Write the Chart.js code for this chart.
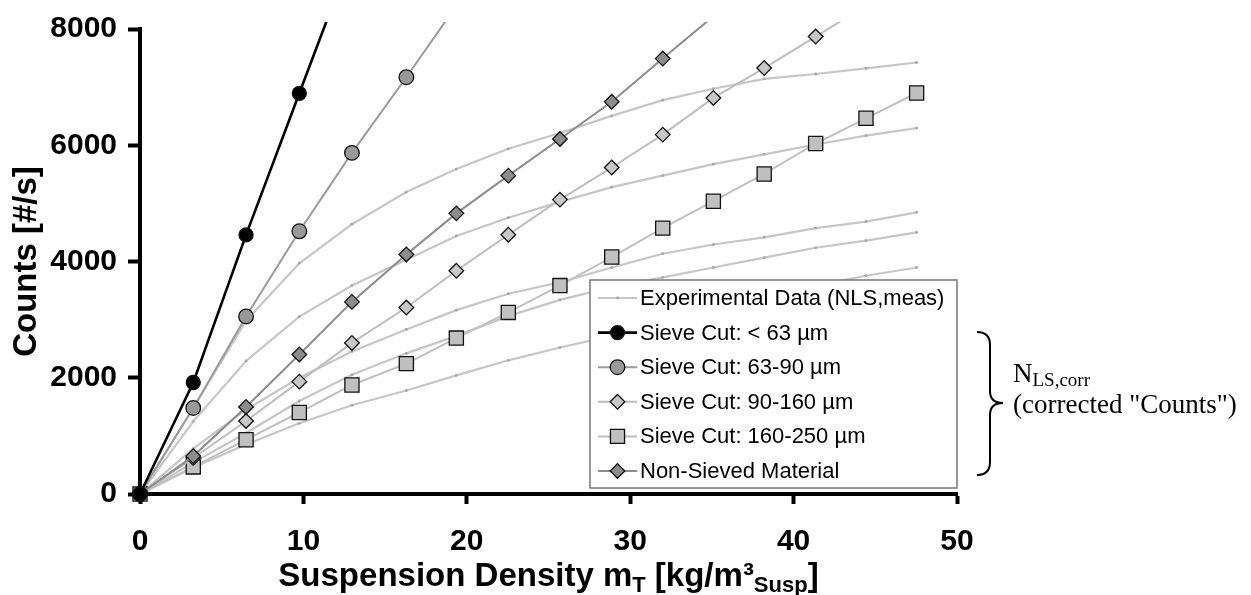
<!DOCTYPE html>
<html>
<head>
<meta charset="utf-8">
<script src="https://cdn.jsdelivr.net/npm/chart.js@4.4.1/dist/chart.umd.min.js"></script>
<style>
  html, body { margin: 0; padding: 0; background: #fff; }
  #wrap { width: 1251px; height: 595px; }
</style>
</head>
<body>
<div id="wrap"><canvas id="counts" width="1251" height="595"></canvas></div>
<script>
// suspension density of the measuring steps [kg/m3]
const density = [0, 3.26, 6.49, 9.75, 12.97, 16.3, 19.36, 22.54, 25.7, 28.87, 31.99, 35.09, 38.2, 41.35, 44.43, 47.53]

// corrected counts N_LS,corr [#/s] (last value of a series lies above the axis, gets clipped)
const below63 = [0, 1918, 4457, 6894, 9290]
const cut63to90 = [0, 1480, 3055, 4520, 5868, 7170, 8400]
const cut90to160 = [0, 620, 1256, 1933, 2599, 3208, 3840, 4461, 5065, 5617, 6183, 6814, 7328, 7870, 8400]
const cut160to250 = [0, 466, 934, 1402, 1876, 2243, 2683, 3124, 3586, 4077, 4574, 5037, 5506, 6030, 6464, 6899]
const nonSieved = [0, 652, 1498, 2401, 3305, 4122, 4828, 5477, 6108, 6747, 7491, 8220]

// measured counts N_LS,meas [#/s]
const meas1 = [0, 1480, 2980, 3970, 4642, 5194, 5590, 5939, 6210, 6505, 6776, 6972, 7142, 7226, 7322, 7424]
const meas2 = [0, 1250, 2289, 3051, 3586, 4030, 4440, 4754, 5025, 5279, 5477, 5675, 5844, 6013, 6166, 6295]
const meas3 = [0, 780, 1450, 2000, 2450, 2830, 3163, 3445, 3643, 3897, 4134, 4292, 4416, 4574, 4686, 4845]
const meas4 = [0, 540, 1050, 1600, 2050, 2420, 2720, 3060, 3340, 3559, 3728, 3897, 4066, 4236, 4360, 4500]
const meas5 = [0, 454, 850, 1216, 1527, 1781, 2040, 2300, 2520, 2720, 2930, 3150, 3380, 3590, 3755, 3897]

const xTicks = [0, 10, 20, 30, 40, 50]
const yTicks = [0, 2000, 4000, 6000, 8000]

const SANS = "'Liberation Sans', Arial, sans-serif"
const SERIF = "'Liberation Serif', 'Times New Roman', serif"

function pairs(ys) {
  return ys.map((y, i) => ({ x: density[i], y: y }))
}

const clipArea = { left: 15, right: 15, top: 7, bottom: 15 }

function measured(ys, first) {
  return {
    label: 'Experimental Data (NLS,meas)',
    inLegend: first,
    data: pairs(ys),
    showLine: true,
    borderColor: '#c6c6c6',
    borderWidth: 2.2,
    pointRadius: 1.4,
    pointBorderWidth: 0,
    pointBackgroundColor: '#a6a6a6',
    order: 10,
    clip: clipArea
  }
}

function sieve(label, ys, line, lineWidth, style, radius, fill, order) {
  return {
    label: label,
    inLegend: true,
    data: pairs(ys),
    showLine: true,
    borderColor: line,
    borderWidth: lineWidth,
    pointStyle: style,
    pointRadius: radius,
    pointBackgroundColor: fill,
    pointBorderColor: '#111',
    pointBorderWidth: 1.3,
    order: order,
    clip: clipArea
  }
}

const datasets = [
  measured(meas1, true),
  measured(meas2, false),
  measured(meas3, false),
  measured(meas4, false),
  measured(meas5, false),
  sieve('Sieve Cut: < 63 µm', below63, '#000', 2.6, 'circle', 7, '#000', 1),
  sieve('Sieve Cut: 63-90 µm', cut63to90, '#9a9a9a', 2, 'circle', 7.3, '#999', 2),
  sieve('Sieve Cut: 90-160 µm', cut90to160, '#bdbdbd', 2, 'rectRot', 7.3, '#c8c8c8', 4),
  sieve('Sieve Cut: 160-250 µm', cut160to250, '#c0c0c0', 2, 'rect', 10, '#c0c0c0', 5),
  sieve('Non-Sieved Material', nonSieved, '#8c8c8c', 2, 'rectRot', 7.3, '#8c8c8c', 3)
]

function marker(ctx, style, x, y, r, fill, stroke, bw) {
  ctx.beginPath()
  if (style === 'circle') {
    ctx.arc(x, y, r, 0, Math.PI * 2)
  } else if (style === 'rectRot') {
    ctx.moveTo(x - r, y); ctx.lineTo(x, y - r); ctx.lineTo(x + r, y); ctx.lineTo(x, y + r)
    ctx.closePath()
  } else if (style === 'rect') {
    const h = r * Math.SQRT1_2
    ctx.rect(x - h, y - h, 2 * h, 2 * h)
  }
  ctx.fillStyle = fill
  ctx.fill()
  if (bw > 0) {
    ctx.lineWidth = bw
    ctx.strokeStyle = stroke
    ctx.stroke()
  }
}

// text with subscripts, parts = [text, size, shift]
function richText(ctx, parts, x, base, weight, family, align) {
  let total = 0
  parts.forEach(p => {
    ctx.font = weight + ' ' + p[1] + 'px ' + family
    total += ctx.measureText(p[0]).width
  })
  let cx = align === 'center' ? x - total / 2 : x
  ctx.textAlign = 'left'
  ctx.textBaseline = 'alphabetic'
  parts.forEach(p => {
    ctx.font = weight + ' ' + p[1] + 'px ' + family
    ctx.fillText(p[0], cx, base + p[2])
    cx += ctx.measureText(p[0]).width
  })
}

const boxLegend = {
  id: 'boxLegend',
  afterDraw(chart) {
    const ctx = chart.ctx
    const area = chart.chartArea
    const w = 367, h = 208
    const bx = area.right - w, by = area.bottom - 6 - h
    ctx.save()
    ctx.fillStyle = '#fff'
    ctx.fillRect(bx, by, w, h)
    ctx.lineWidth = 1.5
    ctx.strokeStyle = '#777'
    ctx.strokeRect(bx, by, w, h)

    const rows = chart.data.datasets.filter(d => d.inLegend)
    rows.forEach((d, i) => {
      const y = by + 18 + i * 34.6
      const x0 = bx + 8, x1 = bx + 47, xm = (x0 + x1) / 2
      ctx.beginPath()
      ctx.moveTo(x0, y); ctx.lineTo(x1, y)
      ctx.lineWidth = d.borderWidth
      ctx.strokeStyle = d.borderColor
      ctx.stroke()
      if (d.pointStyle) {
        marker(ctx, d.pointStyle, xm, y, d.pointRadius, d.pointBackgroundColor, d.pointBorderColor, d.pointBorderWidth)
      } else {
        marker(ctx, 'circle', xm, y, d.pointRadius, d.pointBackgroundColor, '#000', 0)
      }
      ctx.fillStyle = '#000'
      ctx.font = '22px ' + SANS
      ctx.textAlign = 'left'
      ctx.textBaseline = 'middle'
      ctx.fillText(d.label, bx + 50, y + 1)
    })
    ctx.restore()
  }
}

const sideNotes = {
  id: 'sideNotes',
  afterDraw(chart) {
    const ctx = chart.ctx
    const area = chart.chartArea
    ctx.save()
    ctx.fillStyle = '#000'

    // x axis title with subscripts
    richText(ctx, [
      ['Suspension Density m', 33, 0],
      ['T', 22, 6],
      [' [kg/m³', 33, 0],
      ['Susp', 22, 6],
      [']', 33, 0]
    ], (area.left + area.right) / 2, 586, 'bold', SANS, 'center')

    // curly brace
    const bx = area.right + 20, top = 332, mid = 403, bot = 475
    ctx.beginPath()
    ctx.moveTo(bx, top)
    ctx.quadraticCurveTo(bx + 13, top, bx + 13, top + 13)
    ctx.lineTo(bx + 13, mid - 12)
    ctx.quadraticCurveTo(bx + 13, mid, bx + 26, mid)
    ctx.quadraticCurveTo(bx + 13, mid, bx + 13, mid + 12)
    ctx.lineTo(bx + 13, bot - 13)
    ctx.quadraticCurveTo(bx + 13, bot, bx, bot)
    ctx.lineWidth = 2
    ctx.strokeStyle = '#000'
    ctx.stroke()

    richText(ctx, [['N', 27, 0], ['LS,corr', 19, 4]], bx + 36, 382, 'normal', SERIF, 'left')
    richText(ctx, [['(corrected "Counts")', 27, 0]], bx + 36, 413, 'normal', SERIF, 'left')
    ctx.restore()
  }
}

Chart.defaults.font.family = SANS
Chart.defaults.color = '#000'

const countsChart = new Chart(document.getElementById('counts'), {
  type: 'scatter',
  data: { datasets: datasets },
  options: {
    responsive: false,
    devicePixelRatio: 1,
    animation: false,
    layout: { padding: { top: 21, right: 294, bottom: 0, left: 0 } },
    plugins: { legend: { display: false }, tooltip: { enabled: false } },
    scales: {
      x: {
        type: 'linear',
        min: 0,
        max: 50,
        afterFit: (scale) => { scale.height = 101 },
        afterBuildTicks: (scale) => { scale.ticks = xTicks.map(v => ({ value: v })) },
        grid: { drawOnChartArea: false, drawTicks: true, tickLength: 10, tickWidth: 4, tickColor: '#000' },
        border: { display: true, width: 4, color: '#000' },
        ticks: { font: { size: 30, weight: 'bold' }, padding: 20, maxRotation: 0, callback: (v) => String(v) }
      },
      y: {
        type: 'linear',
        min: 0,
        max: 8000,
        afterFit: (scale) => { scale.width = 140 },
        afterBuildTicks: (scale) => { scale.ticks = yTicks.map(v => ({ value: v })) },
        grid: { drawOnChartArea: false, drawTicks: true, tickLength: 12, tickWidth: 4, tickColor: '#000' },
        border: { display: true, width: 4, color: '#000' },
        ticks: { font: { size: 30, weight: 'bold' }, padding: 11, callback: (v) => String(v) },
        title: { display: true, text: 'Counts [#/s]', font: { size: 33, weight: 'bold' }, padding: { top: 7, bottom: 0 } }
      }
    }
  },
  plugins: [boxLegend, sideNotes]
})
</script>
</body>
</html>
